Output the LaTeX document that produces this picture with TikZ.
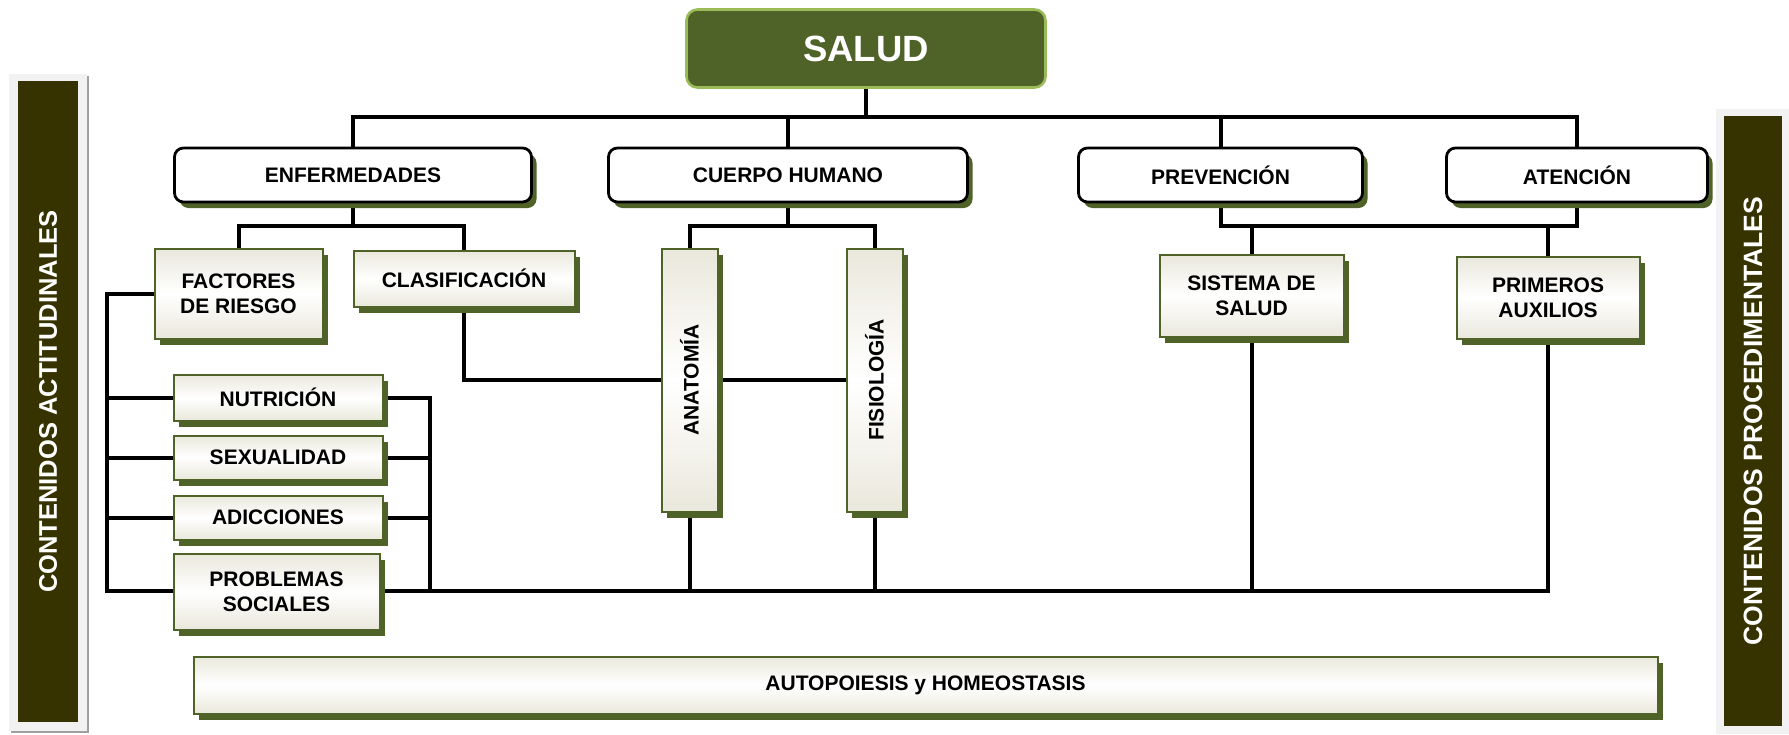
\documentclass[tikz,border=0pt]{standalone}
\usepackage{fontspec}
\usepackage{graphicx}
\setmainfont{Liberation Sans}
\usetikzlibrary{shadows,backgrounds,calc}
\definecolor{olv}{RGB}{79,98,40}
\definecolor{lgreen}{RGB}{155,187,89}
\definecolor{cream}{RGB}{234,232,220}
\definecolor{pdark}{RGB}{54,51,0}
\definecolor{pgrey}{RGB}{242,242,242}
\definecolor{sgrey}{RGB}{160,160,160}
\newcommand\lblfont{\fontsize{21}{25}\selectfont\bfseries}
\newcommand\panfontl{\fontsize{25.5}{30}\selectfont\bfseries}
\newcommand\panfontr{\fontsize{26.5}{30}\selectfont\bfseries}
\newcommand\topfont{\fontsize{36.5}{40}\selectfont\bfseries}
\begin{document}
\begin{tikzpicture}[x=1pt,y=-1pt,
  conn/.style={draw=black,line width=4pt},
  oshadow/.style={drop shadow={shadow xshift=5pt,shadow yshift=-6pt,fill=olv,opacity=1}},
  lvlone/.style={draw=black,line width=2.8pt,fill=white,rounded corners=9pt,oshadow,font=\lblfont,inner sep=0pt,minimum height=54pt},
  subbox/.style={draw=olv,line width=2pt,top color=cream,bottom color=cream,middle color=white,oshadow,font=\lblfont,align=center,inner sep=0pt},
  panel/.style={fill=pdark,text=white,inner sep=0pt}]
\useasboundingbox (0,0) rectangle (1789,734);
\begin{pgfonlayer}{background}
\fill[white] (0,0) rectangle (1789,734);
\end{pgfonlayer}

% side panels
\fill[sgrey] (11,76) rectangle (89,733);
\fill[pgrey] (9,74) rectangle (87,731);
\node[panel,font=\panfontl,minimum width=60pt,minimum height=641pt] (pl) at (48,401.5) {\rotatebox{90}{CONTENIDOS ACTITUDINALES}};
\fill[pgrey] (1716,109) rectangle (1789,734);
\node[panel,font=\panfontr,minimum width=58pt,minimum height=610pt] (pr) at (1753,421) {\rotatebox{90}{CONTENIDOS PROCEDIMENTALES}};

% top
\node[fill=olv,draw=lgreen,line width=2.6pt,rounded corners=11pt,minimum width=359pt,minimum height=78pt,text=white,font=\topfont,inner sep=0pt] (salud) at (866,48.5) {SALUD};

% level one
\node[lvlone,minimum width=357pt] (enf) at (353,175) {ENFERMEDADES};
\node[lvlone,minimum width=359pt] (cuerpo) at (788,175) {CUERPO HUMANO};
\node[lvlone,minimum width=284pt] (prev) at (1220.5,175) {PREVENCIÓN};
\node[lvlone,minimum width=261pt] (aten) at (1577,175) {ATENCIÓN};

% sub boxes
\node[subbox,minimum width=168pt,minimum height=90pt] (fact) at (238.5,293.5) {FACTORES\\DE RIESGO};
\node[subbox,minimum width=221pt,minimum height=56pt] (clas) at (464,278.5) {CLASIFICACIÓN};
\node[subbox,minimum width=56pt,minimum height=263pt] (anat) at (689.5,380) {\rotatebox{90}{ANATOMÍA}};
\node[subbox,minimum width=56pt,minimum height=263pt] (fisio) at (874.5,380) {\rotatebox{90}{FISIOLOGÍA}};
\node[subbox,minimum width=184pt,minimum height=82pt] (sist) at (1251.5,295.5) {SISTEMA DE\\SALUD};
\node[subbox,minimum width=183pt,minimum height=82pt] (prim) at (1548,297.5) {PRIMEROS\\AUXILIOS};
\node[subbox,minimum width=209pt,minimum height=46pt] (nutr) at (278,397.5) {NUTRICIÓN};
\node[subbox,minimum width=209pt,minimum height=44pt] (sexu) at (278,457.5) {SEXUALIDAD};
\node[subbox,minimum width=209pt,minimum height=44pt] (adic) at (278,517.5) {ADICCIONES};
\node[subbox,minimum width=206pt,minimum height=76pt] (prob) at (276.5,591.5) {PROBLEMAS\\SOCIALES};
\node[subbox,minimum width=1464pt,minimum height=57pt] (auto) at (925.5,685) {AUTOPOIESIS y HOMEOSTASIS};

% connectors
\coordinate (b1) at (866,117);
\coordinate (e2) at (353,226);
\coordinate (c2) at (788,226);
\coordinate (p2) at (1400,226);
\coordinate (lb) at (107,591);
\coordinate (rb) at (1548,591);
\coordinate (rv) at (430,398);
\begin{pgfonlayer}{background}
\draw[conn] (salud.south) -- (b1);
\draw[conn] (enf.north) |- (b1) -| (aten.north);
\draw[conn] (cuerpo.north) -- (cuerpo.north |- b1);
\draw[conn] (prev.north) -- (prev.north |- b1);
\draw[conn] (enf.south) -- (e2);
\draw[conn] (fact.north) |- (e2) -| (clas.north);
\draw[conn] (cuerpo.south) -- (c2);
\draw[conn] (anat.north) |- (c2) -| (fisio.north);
\draw[conn] (prev.south) |- (p2) -| (aten.south);
\draw[conn] (sist.north) -- (sist.north |- p2);
\draw[conn] (prim.north) -- (prim.north |- p2);
\draw[conn] (clas.south) |- (fisio.west);
\draw[conn] (fact.west) -| (lb) -- (rb) -- (prim.south);
\draw[conn] (nutr.west) -- (nutr.west -| lb);
\draw[conn] (sexu.west) -- (sexu.west -| lb);
\draw[conn] (adic.west) -- (adic.west -| lb);
\draw[conn] (nutr.east) -- (nutr.east -| rv) -- (rv |- lb);
\draw[conn] (sexu.east) -- (sexu.east -| rv);
\draw[conn] (adic.east) -- (adic.east -| rv);
\draw[conn] (anat.south) -- (anat.south |- lb);
\draw[conn] (fisio.south) -- (fisio.south |- lb);
\draw[conn] (sist.south) -- (sist.south |- lb);
\end{pgfonlayer}
\end{tikzpicture}
\end{document}
